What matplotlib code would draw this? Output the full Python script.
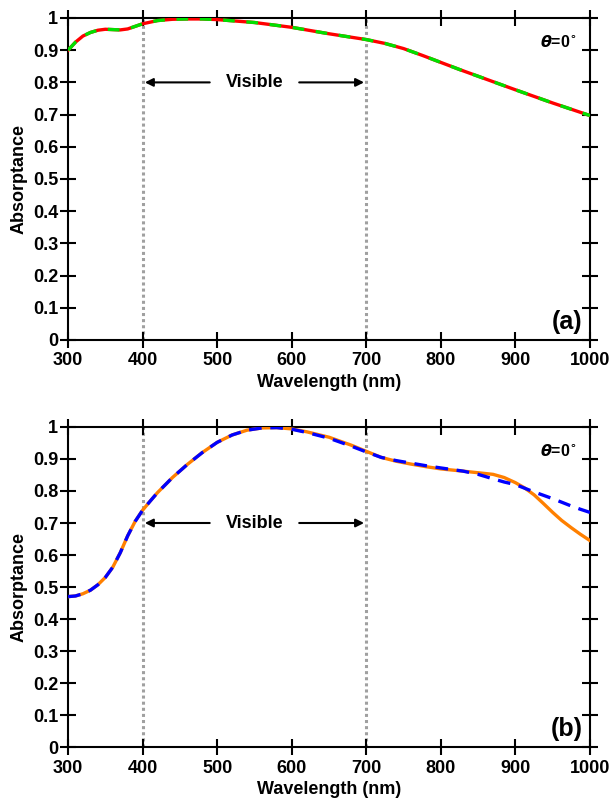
import matplotlib
matplotlib.use("Agg")
import matplotlib.pyplot as plt

plt.rcParams['font.family'] = ['Liberation Sans', 'DejaVu Sans']
plt.rcParams['font.weight'] = 'bold'

# --- data ---
wl_a = [300, 310, 320, 330, 340, 350, 360, 370, 380, 390, 400, 420, 440, 460, 480,
        500, 550, 600, 650, 700, 725, 750, 775, 800, 825, 850, 900, 950, 1000]
abs_a = [0.900, 0.925, 0.944, 0.955, 0.962, 0.965, 0.964, 0.963, 0.966, 0.974, 0.982,
         0.992, 0.996, 0.997, 0.997, 0.995, 0.986, 0.971, 0.951, 0.933, 0.921, 0.905,
         0.884, 0.862, 0.840, 0.819, 0.777, 0.736, 0.697]

wl_b = [300, 310, 320, 330, 340, 350, 360, 370, 380, 390, 400, 410, 420, 440, 460,
        480, 500, 520, 540, 560, 580, 600, 620, 650, 680, 700, 720, 740, 760, 780,
        800, 830, 850, 870, 885, 900, 912, 925, 937, 950, 962, 975, 987, 1000]
abs_b_solid = [0.470, 0.472, 0.479, 0.490, 0.507, 0.530, 0.562, 0.607, 0.660, 0.705,
               0.740, 0.768, 0.795, 0.842, 0.883, 0.920, 0.952, 0.975, 0.990, 0.997,
               0.998, 0.994, 0.985, 0.968, 0.943, 0.924, 0.905, 0.893, 0.884, 0.876,
               0.869, 0.862, 0.857, 0.852, 0.842, 0.826, 0.810, 0.788, 0.762, 0.733,
               0.708, 0.685, 0.665, 0.645]
abs_b_dash = [0.470, 0.472, 0.479, 0.490, 0.507, 0.530, 0.562, 0.607, 0.660, 0.705,
              0.740, 0.768, 0.795, 0.842, 0.883, 0.920, 0.952, 0.975, 0.990, 0.997,
              0.998, 0.993, 0.983, 0.965, 0.940, 0.922, 0.905, 0.895, 0.887, 0.879,
              0.872, 0.862, 0.852, 0.838, 0.828, 0.820, 0.809, 0.797, 0.787, 0.776,
              0.765, 0.753, 0.743, 0.733]

xticks = [300, 400, 500, 600, 700, 800, 900, 1000]
yticks = [0, 0.1, 0.2, 0.3, 0.4, 0.5, 0.6, 0.7, 0.8, 0.9, 1]
ytick_labels = ['0', '0.1', '0.2', '0.3', '0.4', '0.5', '0.6', '0.7', '0.8', '0.9', '1']
visible_edges = [400, 700]

fig = plt.figure(figsize=(6.13, 8.07), dpi=100)
ax_a = fig.add_axes([0.111, 0.5787, 0.8515, 0.399])
ax_b = fig.add_axes([0.111, 0.0743, 0.8515, 0.3966])


def style_axes(ax, label, y_visible):
    ax.set_xlim(300, 1000)
    ax.set_ylim(0, 1)
    ax.set_xticks(xticks)
    ax.set_yticks(yticks)
    ax.set_yticklabels(ytick_labels)
    ax.tick_params(direction='inout', length=12, width=1.5, top=True, right=True,
                   labelsize=13, pad=1)
    ax.tick_params(axis='x', pad=3)
    for s in ax.spines.values():
        s.set_linewidth(1.5)
    ax.set_xlabel('Wavelength (nm)', fontsize=13, fontweight='bold', labelpad=3)
    ax.set_ylabel('Absorptance', fontsize=13, fontweight='bold', labelpad=4)
    for x in visible_edges:
        ax.axvline(x, color='#a0a0a0', lw=2.2, ls=(0, (1, 1)), zorder=1)
    ax.text(550, y_visible, 'Visible', ha='center', va='center', fontsize=13,
            fontweight='bold')
    ax.annotate('', xy=(403, y_visible), xytext=(490, y_visible),
                arrowprops=dict(arrowstyle='-|>', color='black', lw=1.5,
                                mutation_scale=12, shrinkA=0, shrinkB=0))
    ax.annotate('', xy=(697, y_visible), xytext=(610, y_visible),
                arrowprops=dict(arrowstyle='-|>', color='black', lw=1.5,
                                mutation_scale=12, shrinkA=0, shrinkB=0))
    ax.text(982, 0.925, r'$\boldsymbol{\theta}$=0$^{\circ}$', ha='right', va='center',
            fontsize=11.5, fontweight='bold')
    ax.text(990, 0.02, label, ha='right', va='bottom', fontsize=18, fontweight='bold')


# --- (a) ---
ax_a.plot(wl_a, abs_a, color='#ff0000', lw=2.4, zorder=3)
ax_a.plot(wl_a, abs_a, color='#00e000', lw=2.4, ls=(0, (3.5, 3.5)), zorder=4)
style_axes(ax_a, '(a)', 0.80)

# --- (b) ---
ax_b.plot(wl_b, abs_b_solid, color='#ff8000', lw=2.4, zorder=3)
ax_b.plot(wl_b, abs_b_dash, color='#0000ff', lw=2.4, ls=(0, (3.8, 2.6)), zorder=4)
style_axes(ax_b, '(b)', 0.70)

fig.savefig('out.png', dpi=100)
